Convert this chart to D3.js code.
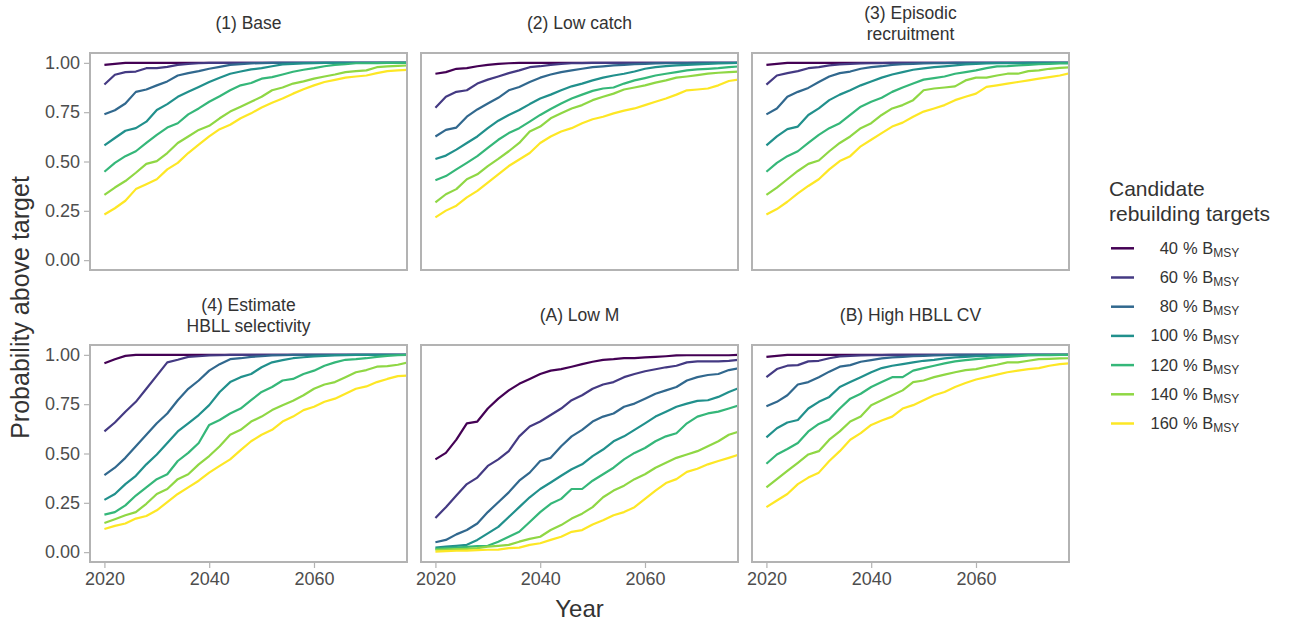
<!DOCTYPE html>
<html>
<head>
<meta charset="utf-8">
<script src="https://cdn.jsdelivr.net/npm/d3@7"></script>
<style>
  html, body { margin: 0; padding: 0; background: #ffffff; }
  svg { display: block; font-family: "Liberation Sans", Arial, sans-serif; }
</style>
</head>
<body>
<svg id="chart" width="1294" height="623"></svg>
<script>
// Projection years (every second year)
const years = [2020, 2022, 2024, 2026, 2028, 2030, 2032, 2034, 2036, 2038,
               2040, 2042, 2044, 2046, 2048, 2050, 2052, 2054, 2056, 2058,
               2060, 2062, 2064, 2066, 2068, 2070, 2072, 2074, 2076, 2078];

// Candidate rebuilding targets (% of B_MSY) and their colours
const targets = ["40", "60", "80", "100", "120", "140", "160"];
const targetColors = ["#440154", "#443A83", "#31688E", "#21908C", "#35B779", "#8FD744", "#FDE725"];

// Scenario titles (one or two lines each)
const scenarioTitles = [
  ["(1) Base"],
  ["(2) Low catch"],
  ["(3) Episodic", "recruitment"],
  ["(4) Estimate", "HBLL selectivity"],
  ["(A) Low M"],
  ["(B) High HBLL CV"]
];

// Probability of being above each target, one row per target (40 ... 160 %)
const base = [
  [0.99,0.995,1,1,1,1,1,1,1,1,1,1,1,1,1,1,1,1,1,1,1,1,1,1,1,1,1,1,1,1],
  [0.89,0.94,0.953,0.956,0.973,0.973,0.98,0.99,0.995,0.998,1,1,1,1,1,1,1,1,1,1,1,1,1,1,1,1,1,1,1,1],
  [0.739,0.76,0.794,0.853,0.865,0.886,0.906,0.936,0.948,0.958,0.97,0.98,0.99,0.994,0.997,0.999,1,1,1,1,1,1,1,1,1,1,1,1,1,1],
  [0.582,0.619,0.656,0.669,0.702,0.761,0.791,0.828,0.853,0.878,0.903,0.925,0.945,0.956,0.967,0.973,0.983,0.992,0.995,0.997,0.999,1,1,1,1,1,1,1,1,1],
  [0.448,0.493,0.527,0.552,0.594,0.635,0.672,0.694,0.739,0.769,0.803,0.831,0.861,0.886,0.898,0.92,0.928,0.941,0.955,0.965,0.973,0.983,0.99,0.993,0.998,0.998,0.999,1,1,1],
  [0.331,0.368,0.401,0.443,0.488,0.502,0.543,0.594,0.627,0.66,0.681,0.719,0.753,0.778,0.803,0.828,0.861,0.875,0.895,0.906,0.92,0.931,0.941,0.953,0.958,0.962,0.978,0.982,0.985,0.987],
  [0.231,0.263,0.301,0.36,0.385,0.41,0.46,0.493,0.543,0.585,0.627,0.664,0.686,0.719,0.744,0.774,0.798,0.819,0.844,0.866,0.886,0.903,0.914,0.925,0.931,0.936,0.948,0.958,0.962,0.965]
];

const lowCatch = [
  [0.945,0.953,0.97,0.973,0.983,0.99,0.995,0.998,1,1,1,1,1,1,1,1,1,1,1,1,1,1,1,1,1,1,1,1,1,1],
  [0.773,0.828,0.853,0.861,0.895,0.915,0.931,0.948,0.962,0.978,0.983,0.99,0.995,0.998,0.999,1,1,1,1,1,1,1,1,1,1,1,1,1,1,1],
  [0.627,0.66,0.672,0.727,0.764,0.794,0.823,0.861,0.878,0.903,0.925,0.941,0.953,0.962,0.97,0.978,0.982,0.987,0.99,0.993,0.995,0.997,0.998,0.999,0.999,1,1,1,1,1],
  [0.513,0.53,0.56,0.594,0.627,0.669,0.707,0.736,0.761,0.791,0.819,0.839,0.861,0.881,0.895,0.911,0.925,0.936,0.945,0.956,0.97,0.978,0.983,0.987,0.99,0.992,0.995,0.997,0.998,1],
  [0.405,0.426,0.46,0.493,0.527,0.569,0.61,0.644,0.669,0.702,0.736,0.766,0.794,0.819,0.839,0.858,0.87,0.875,0.895,0.911,0.923,0.936,0.945,0.953,0.962,0.967,0.97,0.973,0.978,0.982],
  [0.293,0.334,0.36,0.41,0.435,0.477,0.513,0.552,0.594,0.652,0.677,0.719,0.744,0.769,0.786,0.811,0.828,0.844,0.865,0.875,0.886,0.9,0.911,0.925,0.931,0.938,0.945,0.95,0.953,0.956],
  [0.217,0.251,0.276,0.318,0.351,0.393,0.435,0.477,0.51,0.543,0.594,0.627,0.652,0.669,0.694,0.714,0.727,0.744,0.758,0.769,0.786,0.803,0.819,0.839,0.861,0.865,0.87,0.886,0.908,0.916]
];

const episodic = [
  [0.99,0.995,1,1,1,1,1,1,1,1,1,1,1,1,1,1,1,1,1,1,1,1,1,1,1,1,1,1,1,1],
  [0.89,0.936,0.948,0.958,0.973,0.978,0.987,0.992,0.995,0.997,0.998,0.999,1,1,1,1,1,1,1,1,1,1,1,1,1,1,1,1,1,1],
  [0.739,0.769,0.828,0.853,0.873,0.903,0.931,0.948,0.956,0.97,0.978,0.983,0.99,0.993,0.995,0.997,0.998,0.999,1,1,1,1,1,1,1,1,1,1,1,1],
  [0.582,0.627,0.664,0.677,0.736,0.769,0.811,0.839,0.861,0.886,0.906,0.925,0.941,0.953,0.965,0.972,0.978,0.982,0.987,0.992,0.995,0.997,0.998,0.999,0.999,1,1,1,1,1],
  [0.448,0.493,0.527,0.552,0.594,0.635,0.669,0.694,0.736,0.778,0.803,0.823,0.853,0.875,0.895,0.915,0.923,0.931,0.945,0.953,0.962,0.973,0.982,0.983,0.987,0.99,0.993,0.995,0.997,0.998],
  [0.331,0.368,0.41,0.452,0.488,0.505,0.552,0.594,0.627,0.669,0.694,0.736,0.769,0.786,0.811,0.861,0.87,0.875,0.881,0.911,0.925,0.925,0.936,0.945,0.945,0.958,0.962,0.97,0.975,0.978],
  [0.231,0.259,0.296,0.338,0.376,0.41,0.46,0.502,0.527,0.577,0.61,0.644,0.677,0.697,0.727,0.753,0.769,0.786,0.811,0.828,0.844,0.878,0.886,0.895,0.903,0.911,0.92,0.928,0.936,0.948]
];

const hbllSelectivity = [
  [0.957,0.978,0.995,1,1,1,1,1,1,1,1,1,1,1,1,1,1,1,1,1,1,1,1,1,1,1,1,1,1,1],
  [0.612,0.657,0.712,0.762,0.828,0.895,0.962,0.975,0.99,0.993,0.997,0.998,1,1,1,1,1,1,1,1,1,1,1,1,1,1,1,1,1,1],
  [0.39,0.428,0.478,0.537,0.595,0.653,0.703,0.77,0.828,0.87,0.92,0.953,0.978,0.983,0.99,0.993,0.997,0.998,1,1,1,1,1,1,1,1,1,1,1,1],
  [0.265,0.295,0.345,0.387,0.445,0.495,0.553,0.612,0.653,0.695,0.745,0.812,0.862,0.887,0.903,0.937,0.962,0.973,0.983,0.988,0.992,0.995,0.997,0.999,1,1,1,1,1,1],
  [0.19,0.203,0.237,0.287,0.328,0.37,0.395,0.462,0.503,0.553,0.645,0.67,0.703,0.728,0.77,0.812,0.837,0.87,0.878,0.903,0.92,0.945,0.962,0.975,0.978,0.983,0.99,0.995,0.998,1],
  [0.148,0.167,0.187,0.203,0.245,0.295,0.32,0.37,0.395,0.445,0.487,0.537,0.595,0.62,0.662,0.687,0.72,0.745,0.767,0.795,0.828,0.85,0.862,0.887,0.912,0.923,0.94,0.943,0.95,0.962],
  [0.117,0.133,0.145,0.17,0.183,0.212,0.253,0.295,0.328,0.362,0.403,0.437,0.47,0.517,0.562,0.595,0.62,0.662,0.687,0.72,0.737,0.762,0.778,0.803,0.828,0.84,0.862,0.878,0.892,0.895]
];

const lowM = [
  [0.47,0.503,0.57,0.653,0.662,0.728,0.778,0.82,0.853,0.878,0.903,0.92,0.928,0.94,0.953,0.965,0.975,0.978,0.983,0.983,0.987,0.99,0.993,0.997,0.998,0.998,0.998,0.998,0.998,1],
  [0.173,0.228,0.287,0.345,0.378,0.437,0.47,0.512,0.587,0.637,0.662,0.695,0.728,0.77,0.795,0.828,0.85,0.862,0.887,0.903,0.917,0.927,0.937,0.945,0.962,0.967,0.967,0.967,0.97,0.975],
  [0.05,0.062,0.09,0.112,0.145,0.203,0.253,0.303,0.362,0.403,0.462,0.478,0.537,0.587,0.62,0.662,0.687,0.703,0.737,0.753,0.778,0.803,0.82,0.837,0.87,0.887,0.898,0.903,0.923,0.933],
  [0.023,0.028,0.032,0.037,0.062,0.095,0.128,0.178,0.228,0.278,0.32,0.353,0.387,0.42,0.445,0.487,0.52,0.562,0.587,0.62,0.653,0.687,0.712,0.737,0.753,0.767,0.77,0.787,0.812,0.833],
  [0.017,0.02,0.023,0.027,0.03,0.032,0.053,0.078,0.103,0.153,0.203,0.245,0.27,0.32,0.32,0.362,0.395,0.428,0.47,0.503,0.528,0.562,0.587,0.603,0.653,0.687,0.703,0.712,0.728,0.745],
  [0.012,0.013,0.015,0.017,0.02,0.028,0.032,0.037,0.053,0.067,0.078,0.112,0.137,0.17,0.195,0.228,0.278,0.312,0.337,0.37,0.395,0.428,0.453,0.478,0.495,0.512,0.537,0.562,0.595,0.612],
  [0.003,0.005,0.007,0.008,0.01,0.012,0.013,0.02,0.023,0.037,0.045,0.062,0.078,0.103,0.112,0.14,0.162,0.187,0.203,0.228,0.27,0.312,0.35,0.37,0.407,0.423,0.445,0.462,0.478,0.495]
];

const highHbllCV = [
  [0.99,0.995,1,1,1,1,1,1,1,1,1,1,1,1,1,1,1,1,1,1,1,1,1,1,1,1,1,1,1,1],
  [0.887,0.928,0.945,0.948,0.967,0.97,0.983,0.992,0.995,0.997,0.998,0.999,1,1,1,1,1,1,1,1,1,1,1,1,1,1,1,1,1,1],
  [0.74,0.762,0.795,0.85,0.862,0.887,0.915,0.94,0.948,0.965,0.973,0.982,0.987,0.99,0.993,0.995,0.997,0.999,1,1,1,1,1,1,1,1,1,1,1,1],
  [0.582,0.628,0.657,0.67,0.728,0.762,0.787,0.837,0.862,0.887,0.912,0.933,0.945,0.953,0.962,0.97,0.975,0.982,0.987,0.99,0.993,0.995,0.997,0.998,0.999,1,1,1,1,1],
  [0.448,0.495,0.523,0.553,0.612,0.65,0.673,0.728,0.778,0.803,0.837,0.862,0.887,0.887,0.92,0.933,0.945,0.957,0.967,0.973,0.978,0.983,0.987,0.99,0.993,0.997,0.998,0.999,1,1],
  [0.328,0.37,0.412,0.453,0.495,0.512,0.57,0.612,0.662,0.687,0.745,0.77,0.795,0.82,0.862,0.87,0.887,0.9,0.912,0.923,0.928,0.94,0.95,0.962,0.962,0.97,0.978,0.98,0.982,0.983],
  [0.228,0.262,0.295,0.345,0.378,0.403,0.462,0.512,0.57,0.603,0.645,0.667,0.687,0.728,0.745,0.77,0.795,0.812,0.837,0.857,0.875,0.887,0.9,0.912,0.92,0.928,0.933,0.945,0.953,0.957]
];

const scenarioData = [base, lowCatch, episodic, hbllSelectivity, lowM, highHbllCV];

// Axis tick values and labels
const xTicks = [2020, 2040, 2060];
const yTicks = [0, 0.25, 0.5, 0.75, 1];

// ---------------- layout ----------------
const svg = d3.select("#chart");
const panelW = 317, panelH = 217;
const colX = [90, 421, 752];
const rowY = [53, 345];
const xDomain = [2017.25, 2077.75];
const yDomain = [-0.05, 1.05];
const borderColor = "#b3b3b3";
const tickTextColor = "#4d4d4d";
const titleColor = "#333333";

scenarioData.forEach((series, i) => {
  const col = i % 3, row = Math.floor(i / 3);
  const x0 = colX[col], y0 = rowY[row];
  const x = d3.scaleLinear().domain(xDomain).range([x0, x0 + panelW]);
  const y = d3.scaleLinear().domain(yDomain).range([y0 + panelH, y0]);

  const g = svg.append("g").attr("class", "panel");

  // clip region for the panel
  const clipId = "clip" + i;
  svg.append("clipPath").attr("id", clipId)
    .append("rect").attr("x", x0).attr("y", y0).attr("width", panelW).attr("height", panelH);

  const line = d3.line().x((d, k) => x(years[k])).y(d => y(d));

  g.append("g").attr("clip-path", `url(#${clipId})`)
    .selectAll("path")
    .data(series)
    .join("path")
    .attr("d", d => line(d))
    .attr("fill", "none")
    .attr("stroke", (d, k) => targetColors[k])
    .attr("stroke-width", 2.2)
    .attr("stroke-linejoin", "round")
    .attr("stroke-linecap", "butt");

  // panel border
  g.append("rect")
    .attr("x", x0).attr("y", y0).attr("width", panelW).attr("height", panelH)
    .attr("fill", "none").attr("stroke", borderColor).attr("stroke-width", 2);

  // strip title
  const lines = scenarioTitles[i];
  const base0 = lines.length === 1 ? y0 - 24 : y0 - 34.5;
  lines.forEach((t, k) => {
    g.append("text")
      .attr("x", x0 + panelW / 2)
      .attr("y", base0 + k * 21)
      .attr("text-anchor", "middle")
      .attr("font-size", 17.5)
      .attr("fill", titleColor)
      .text(t);
  });

  // y axis on the first column
  if (col === 0) {
    const ay = g.append("g")
      .attr("transform", `translate(${x0 - 1},0)`)
      .call(d3.axisLeft(y).tickValues(yTicks).tickFormat(d3.format(".2f")).tickSize(5).tickPadding(4));
    ay.select(".domain").remove();
    ay.selectAll("line").attr("stroke", borderColor).attr("stroke-width", 1.2);
    ay.selectAll("text").attr("font-size", 18).attr("fill", tickTextColor)
      .attr("font-family", "Liberation Sans, Arial, sans-serif");
  }
  // x axis on the bottom row
  if (row === 1) {
    const ax = g.append("g")
      .attr("transform", `translate(0,${y0 + panelH + 1})`)
      .call(d3.axisBottom(x).tickValues(xTicks).tickFormat(d3.format("d")).tickSize(5).tickPadding(4));
    ax.select(".domain").remove();
    ax.selectAll("line").attr("stroke", borderColor).attr("stroke-width", 1.2);
    ax.selectAll("text").attr("font-size", 18).attr("fill", tickTextColor)
      .attr("font-family", "Liberation Sans, Arial, sans-serif");
  }
});

// axis titles
svg.append("text")
  .attr("x", (colX[0] + colX[2] + panelW) / 2)
  .attr("y", 617)
  .attr("text-anchor", "middle")
  .attr("font-size", 24)
  .attr("fill", titleColor)
  .text("Year");

svg.append("text")
  .attr("transform", `translate(29,${(rowY[0] + rowY[1] + panelH) / 2}) rotate(-90)`)
  .attr("text-anchor", "middle")
  .attr("font-size", 25)
  .attr("fill", titleColor)
  .text("Probability above target");

// ---------------- legend ----------------
const legend = svg.append("g").attr("class", "legend");
legend.append("text").attr("x", 1109).attr("y", 196)
  .attr("font-size", 21).attr("fill", titleColor).text("Candidate");
legend.append("text").attr("x", 1109).attr("y", 221)
  .attr("font-size", 21).attr("fill", titleColor).text("rebuilding targets");

targets.forEach((t, k) => {
  const ky = 248.3 + k * 29.2;
  legend.append("line")
    .attr("x1", 1111).attr("x2", 1134).attr("y1", ky).attr("y2", ky)
    .attr("stroke", targetColors[k]).attr("stroke-width", 2.5);
  legend.append("text")
    .attr("x", 1178).attr("y", ky + 5.5)
    .attr("text-anchor", "end")
    .attr("font-size", 16.5).attr("fill", titleColor)
    .text(t);
  const lab = legend.append("text")
    .attr("x", 1183).attr("y", ky + 5.5)
    .attr("font-size", 16.5).attr("fill", titleColor);
  lab.append("tspan").text("% B");
  lab.append("tspan").attr("font-size", 12).attr("dy", 3).text("MSY");
});
</script>
</body>
</html>
